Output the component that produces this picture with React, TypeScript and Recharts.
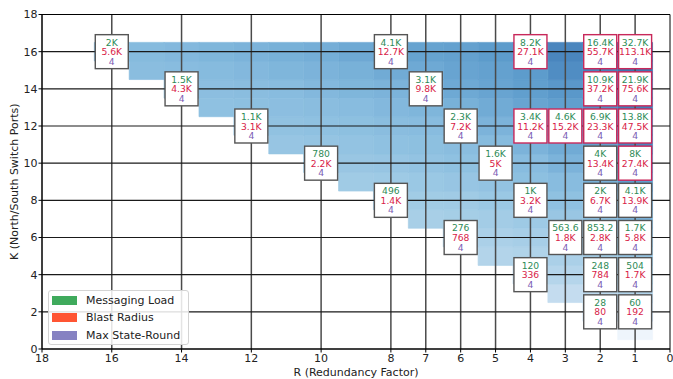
import React from 'react';
import { ScatterChart, Scatter, XAxis, YAxis, ReferenceArea, ReferenceLine, Legend } from 'recharts';

const X_TICKS = [18, 16, 14, 12, 10, 8, 7, 6, 5, 4, 3, 2, 1, 0];
const Y_TICKS = [0, 2, 4, 6, 8, 10, 12, 14, 16, 18];

// Heatmap intensity (0-100), row index = K-1, entries for R = 1..K
const HEAT_ROWS: number[][] = [
  [0],
  [25, 17],
  [40, 31, 26],
  [50, 42, 37, 33],
  [58, 50, 45, 41, 39],
  [65, 56, 51, 48, 45, 43],
  [70, 62, 57, 54, 51, 49, 47],
  [75, 67, 62, 58, 56, 53, 52, 50],
  [79, 71, 66, 63, 60, 58, 56, 54, 53],
  [83, 75, 70, 66, 64, 62, 60, 58, 57, 55],
  [87, 78, 73, 70, 67, 65, 63, 62, 60, 59, 58],
  [90, 81, 76, 73, 70, 68, 66, 65, 63, 62, 61, 60],
  [93, 84, 79, 76, 73, 71, 69, 68, 66, 65, 64, 63, 62],
  [95, 87, 82, 79, 76, 74, 72, 70, 69, 68, 66, 65, 64, 63],
  [98, 89, 85, 81, 78, 76, 74, 73, 71, 70, 69, 68, 67, 66, 65],
  [100, 92, 87, 83, 81, 78, 77, 75, 74, 72, 71, 70, 69, 68, 67, 67],
];

const BOX_R = [16, 14, 12, 10, 8, 8, 7, 6, 6, 5, 4, 4, 4, 4, 3, 3, 2, 2, 2, 2, 2, 2, 2, 2, 1, 1, 1, 1, 1, 1, 1, 1];
const BOX_K = [16, 14, 12, 10, 16, 8, 14, 12, 6, 10, 16, 12, 8, 4, 12, 6, 16, 14, 12, 10, 8, 6, 4, 2, 16, 14, 12, 10, 8, 6, 4, 2];
const BOX_MSG = ['2K', '1.5K', '1.1K', '780', '4.1K', '496', '3.1K', '2.3K', '276', '1.6K', '8.2K', '3.4K', '1K', '120', '4.6K', '563.6', '16.4K', '10.9K', '6.9K', '4K', '2K', '853.2', '248', '28', '32.7K', '21.9K', '13.8K', '8K', '4.1K', '1.7K', '504', '60'];
const BOX_BLAST = ['5.6K', '4.3K', '3.1K', '2.2K', '12.7K', '1.4K', '9.8K', '7.2K', '768', '5K', '27.1K', '11.2K', '3.2K', '336', '15.2K', '1.8K', '55.7K', '37.2K', '23.3K', '13.4K', '6.7K', '2.8K', '784', '80', '113.1K', '75.6K', '47.5K', '27.4K', '13.9K', '5.8K', '1.7K', '192'];
const BOX_STATE = ['4', '4', '4', '4', '4', '4', '4', '4', '4', '4', '4', '4', '4', '4', '4', '4', '4', '4', '4', '4', '4', '4', '4', '4', '4', '4', '4', '4', '4', '4', '4', '4'];
const BOX_ALERT = [0, 0, 0, 0, 0, 0, 0, 0, 0, 0, 1, 1, 0, 0, 1, 0, 1, 1, 1, 0, 0, 0, 0, 0, 1, 1, 1, 1, 0, 0, 0, 0];

const LEGEND_NAMES = ['Messaging Load', 'Blast Radius', 'Max State-Round'];
const LEGEND_COLORS = ['#3faa5c', '#ff5533', '#8682c2'];

const FONT = '"DejaVu Sans", Verdana, sans-serif';

const STOPS: [number, string][] = [
  [0, '#eef5fc'],
  [0.26, '#c4dcef'],
  [0.53, '#a0cbe5'],
  [0.67, '#86bbde'],
  [0.75, '#6aa6d2'],
  [0.81, '#5d9ccc'],
  [0.87, '#4a86be'],
  [1, '#3a73af'],
];

function hexToRgb(h: string) {
  return [parseInt(h.slice(1, 3), 16), parseInt(h.slice(3, 5), 16), parseInt(h.slice(5, 7), 16)];
}
function colorFor(v: number) {
  const t = v / 100;
  for (let i = 1; i < STOPS.length; i++) {
    if (t <= STOPS[i][0]) {
      const [t0, c0] = STOPS[i - 1];
      const [t1, c1] = STOPS[i];
      const f = (t - t0) / (t1 - t0);
      const a = hexToRgb(c0);
      const b = hexToRgb(c1);
      const m = a.map((x, j) => Math.round(x + (b[j] - x) * f));
      return `rgb(${m[0]},${m[1]},${m[2]})`;
    }
  }
  return STOPS[STOPS.length - 1][1];
}

const cells: { R: number; K: number; color: string }[] = [];
HEAT_ROWS.forEach((row, ki) => {
  row.forEach((v, ri) => {
    cells.push({ R: ri + 1, K: ki + 1, color: colorFor(v) });
  });
});

const boxes = BOX_R.map((r, i) => ({
  R: r,
  K: BOX_K[i],
  msg: BOX_MSG[i],
  blast: BOX_BLAST[i],
  state: BOX_STATE[i],
  alert: BOX_ALERT[i],
}));

const renderBox = (props: any) => {
  const { cx, cy, payload } = props;
  if (cx == null || cy == null) return <g />;
  const w = 33;
  const h = 34;
  const fs = 9.2;
  return (
    <g>
      <rect
        x={cx - w / 2}
        y={cy - h / 2}
        width={w}
        height={h}
        fill="#ffffff"
        stroke={payload.alert ? '#c8285a' : '#555555'}
        strokeWidth={1.4}
      />
      <text x={cx} y={cy - 9.6} textAnchor="middle" dominantBaseline="central" fontSize={fs} fontFamily={FONT} fill="#2e8b57">
        {payload.msg}
      </text>
      <text x={cx} y={cy} textAnchor="middle" dominantBaseline="central" fontSize={fs} fontFamily={FONT} fill="#d81b48">
        {payload.blast}
      </text>
      <text x={cx} y={cy + 9.6} textAnchor="middle" dominantBaseline="central" fontSize={fs} fontFamily={FONT} fill="#7b5cb4">
        {payload.state}
      </text>
    </g>
  );
};

const renderLegend = () => (
  <div
    style={{
      boxSizing: 'border-box',
      width: 141,
      height: 55,
      border: '1px solid #d4d4d4',
      borderRadius: 3,
      background: 'rgba(255,255,255,0.85)',
      paddingTop: 1,
      fontFamily: FONT,
      fontSize: 11,
      color: '#222',
    }}
  >
    {LEGEND_NAMES.map((n, i) => (
      <div key={n} style={{ display: 'flex', alignItems: 'center', height: 17.3, whiteSpace: 'nowrap' }}>
        <span style={{ display: 'inline-block', marginLeft: 3, width: 25, height: 9, background: LEGEND_COLORS[i] }} />
        <span style={{ marginLeft: 9, lineHeight: '17px' }}>{n}</span>
      </div>
    ))}
  </div>
);

const renderYLabel = (props: any) => {
  const vb = props.viewBox || { x: 0, y: 14, width: 42, height: 335 };
  const x = 14;
  const y = vb.y + vb.height / 2;
  return (
    <text
      x={x}
      y={y}
      transform={`rotate(-90 ${x} ${y})`}
      textAnchor="middle"
      dominantBaseline="central"
      fontSize={11}
      fontFamily={FONT}
      fill="#222"
    >
      K (North/South Switch Ports)
    </text>
  );
};

const renderXLabel = (props: any) => {
  const vb = props.viewBox || { x: 42, y: 349, width: 628, height: 30 };
  const x = vb.x + vb.width / 2;
  return (
    <text x={x} y={372} textAnchor="middle" dominantBaseline="central" fontSize={11} fontFamily={FONT} fill="#222">
      R (Redundancy Factor)
    </text>
  );
};

export default function App() {
  return (
    <div style={{ position: 'absolute', left: 0, top: 0, width: 673, height: 379, background: '#fff' }}>
      <ScatterChart width={673} height={379} margin={{ top: 14.5, right: 3, bottom: 0, left: 0 }}>
        <XAxis
          type="number"
          dataKey="R"
          domain={[0, 18]}
          reversed
          ticks={X_TICKS}
          interval={0}
          height={30}
          tickSize={3.5}
          tickMargin={1.5}
          axisLine={{ stroke: '#000', strokeWidth: 1 }}
          tickLine={{ stroke: '#000' }}
          tick={{ fontSize: 11, fontFamily: FONT, fill: '#222' }}
          label={renderXLabel}
        />
        <YAxis
          type="number"
          dataKey="K"
          domain={[0, 18]}
          ticks={Y_TICKS}
          interval={0}
          width={42}
          tickSize={3.5}
          tickMargin={1}
          axisLine={{ stroke: '#000', strokeWidth: 1 }}
          tickLine={{ stroke: '#000' }}
          tick={{ fontSize: 11, fontFamily: FONT, fill: '#222' }}
          label={renderYLabel}
        />
        {cells.map((c) => (
          <ReferenceArea
            key={`c-${c.R}-${c.K}`}
            x1={c.R - 0.5}
            x2={c.R + 0.5}
            y1={c.K - 0.5}
            y2={c.K + 0.5}
            fill={c.color}
            fillOpacity={1}
            stroke={c.color}
            strokeWidth={0.7}
            ifOverflow="visible"
          />
        ))}
        {X_TICKS.map((t) => (
          <ReferenceLine
            key={`vx-${t}`}
            x={t}
            stroke={t === 0 || t === 18 ? '#000' : '#4a4a4a'}
            strokeWidth={t === 0 || t === 18 ? 1 : 1.5}
            ifOverflow="visible"
          />
        ))}
        {Y_TICKS.map((t) => (
          <ReferenceLine
            key={`hy-${t}`}
            y={t}
            stroke={t === 0 || t === 18 ? '#000' : '#1a1a1a'}
            strokeWidth={t === 0 || t === 18 ? 1 : 1.2}
            ifOverflow="visible"
          />
        ))}
        <Scatter data={boxes} shape={renderBox} isAnimationActive={false} legendType="none" />
        <Legend
          layout="horizontal"
          align="center"
          verticalAlign="middle"
          content={renderLegend}
          wrapperStyle={{ position: 'absolute', left: 48, top: 290, width: 141, height: 55 }}
        />
      </ScatterChart>
    </div>
  );
}
